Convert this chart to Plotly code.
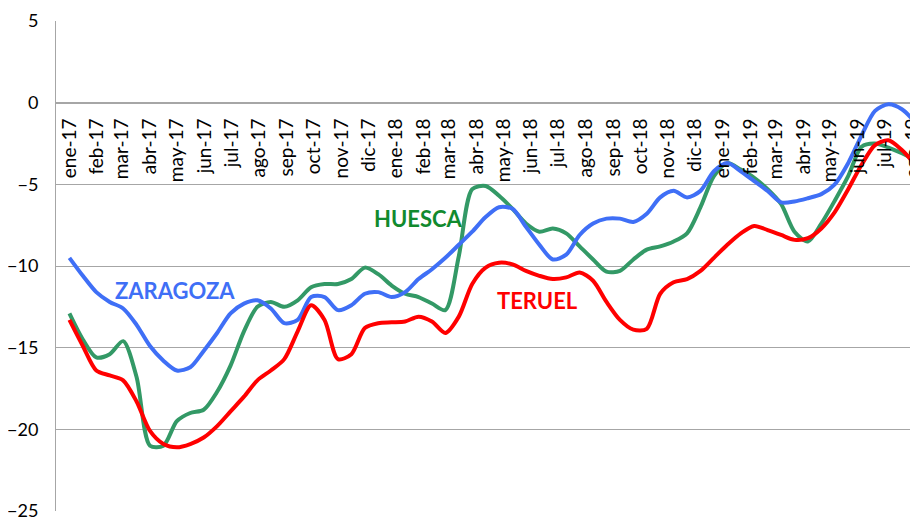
import pandas as pd
import plotly.graph_objects as go

# Month labels (category axis)
months = ["ene-17", "feb-17", "mar-17", "abr-17", "may-17", "jun-17", "jul-17", "ago-17",
          "sep-17", "oct-17", "nov-17", "dic-17", "ene-18", "feb-18", "mar-18", "abr-18",
          "may-18", "jun-18", "jul-18", "ago-18", "sep-18", "oct-18", "nov-18", "dic-18",
          "ene-19", "feb-19", "mar-19", "abr-19", "may-19", "jun-19", "jul-19", "ago-19"]
month_starts = pd.date_range("2017-01-01", periods=len(months), freq="MS")

# Observation dates (every 15 days)
dates = pd.date_range("2017-01-01", periods=64, freq="15D")

zaragoza = [-9.5, -10.6, -11.6, -12.2, -12.6, -13.6, -14.9, -15.8, -16.4, -16.2,
            -15.2, -14.1, -12.9, -12.3, -12.1, -12.6, -13.5, -13.3, -11.9, -11.9,
            -12.7, -12.4, -11.7, -11.6, -11.9, -11.6, -10.8, -10.2, -9.5, -8.7,
            -7.9, -7.0, -6.4, -6.5, -7.6, -8.7, -9.6, -9.3, -8.1, -7.4,
            -7.1, -7.1, -7.3, -6.8, -5.8, -5.4, -5.8, -5.4, -4.2, -3.7,
            -4.2, -4.8, -5.4, -6.1, -6.05, -5.85, -5.6, -5.0, -3.7, -2.0,
            -0.5, -0.1, -0.4, -1.2]

huesca = [-12.9, -14.5, -15.6, -15.4, -14.6, -16.8, -21.0, -21.0, -19.5, -19.0,
          -18.8, -17.7, -16.1, -14.0, -12.5, -12.2, -12.5, -12.1, -11.3, -11.1,
          -11.1, -10.8, -10.1, -10.5, -11.2, -11.7, -11.9, -12.3, -12.7, -9.4,
          -5.3, -5.1, -5.7, -6.5, -7.4, -7.9, -7.7, -8.0, -8.8, -9.6,
          -10.35, -10.3, -9.6, -9.0, -8.8, -8.5, -8.0, -6.4, -4.5, -3.7,
          -4.1, -4.6, -5.3, -6.2, -7.9, -8.5, -7.4, -6.0, -4.5, -2.7,
          -2.5, -2.75, -3.1, -3.5]

teruel = [-13.3, -14.9, -16.4, -16.7, -17.0, -18.3, -20.1, -20.9, -21.1, -20.9,
          -20.5, -19.8, -18.9, -18.0, -17.0, -16.4, -15.7, -14.0, -12.4, -13.3,
          -15.7, -15.4, -13.8, -13.5, -13.45, -13.4, -13.1, -13.4, -14.1, -13.1,
          -11.1, -10.1, -9.8, -9.9, -10.3, -10.6, -10.8, -10.7, -10.4, -10.9,
          -12.2, -13.3, -13.9, -13.85, -11.7, -11.0, -10.8, -10.3, -9.5, -8.7,
          -8.0, -7.55, -7.8, -8.1, -8.4, -8.3, -7.7, -6.7, -5.3, -3.8,
          -2.6, -2.3, -2.9, -3.8]

series = [("HUESCA", huesca, "#339966"),
          ("ZARAGOZA", zaragoza, "#3F6FF6"),
          ("TERUEL", teruel, "#FF0000")]

fig = go.Figure()
for name, vals, col in series:
    fig.add_trace(go.Scatter(x=dates, y=vals, mode="lines", name=name,
                             line=dict(color=col, width=4, shape="spline", smoothing=0.8)))

labels = [("ZARAGOZA", 0.138, -11.5, "#3F6FF6"),
          ("HUESCA", 0.421, -7.1, "#118A2E"),
          ("TERUEL", 0.559, -12.1, "#FF0000")]
for txt, lx, ly, col in labels:
    fig.add_annotation(x=lx, xref="paper", y=ly, yref="y", text="<b>" + txt + "</b>",
                       showarrow=False, font=dict(family="Lato", size=22, color=col),
                       xanchor="center", yanchor="middle")

# The page body adds an 8px offset, so the figure is sized to fit the window
fig.update_layout(
    width=910, height=514,
    margin=dict(l=48, r=0, t=13, b=11),
    paper_bgcolor="white", plot_bgcolor="white",
    showlegend=False,
    font=dict(family="Lato", size=18, color="#000000"),
    xaxis=dict(type="date", range=["2016-12-17", "2019-08-07"], tickmode="array",
               tickvals=list(month_starts), ticktext=months, tickangle=-90,
               showgrid=False, zeroline=False, showline=False, ticks="",
               anchor="free", position=25 / 30, automargin=False, ticklabelstandoff=11,
               ticklabeloverflow="allow",
               tickfont=dict(family="Lato", size=19, color="#000000")),
    yaxis=dict(range=[-25, 5], dtick=5, tick0=0, showgrid=True, gridcolor="#A6A6A6",
               gridwidth=1, zeroline=True, zerolinecolor="#A6A6A6", zerolinewidth=2,
               showline=True, linecolor="#A6A6A6", linewidth=1, ticks="",
               ticklabelstandoff=13, automargin=False,
               tickfont=dict(family="Lato", size=18, color="#000000")),
)

fig.write_html("out.html")
